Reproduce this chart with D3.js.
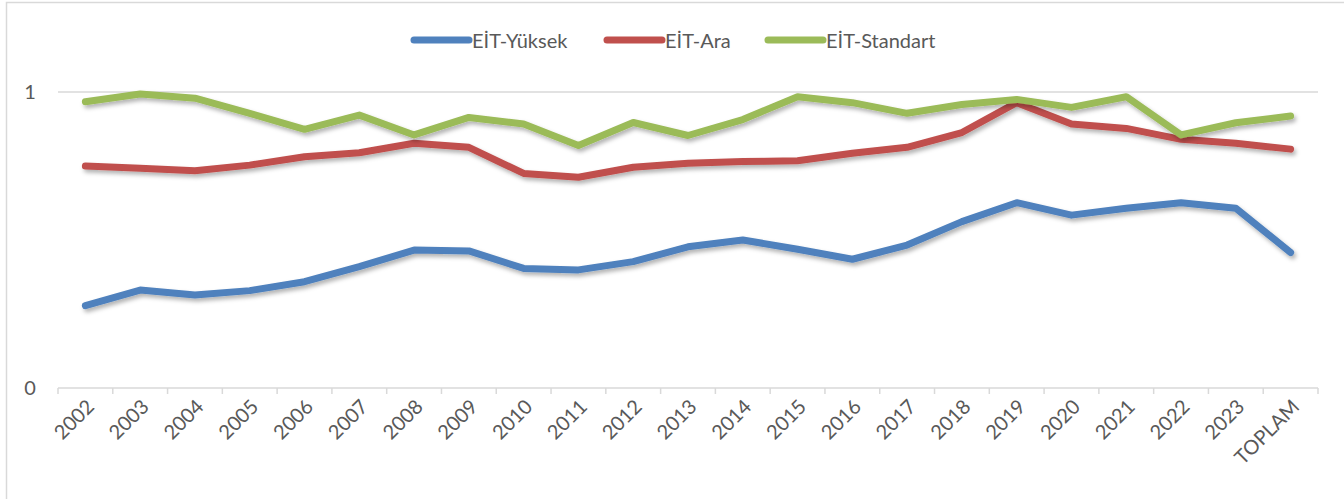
<!DOCTYPE html>
<html>
<head>
<meta charset="utf-8">
<script src="https://cdn.jsdelivr.net/npm/d3@7"></script>
<style>
  body { margin: 0; background: #fff; }
  svg text { font-family: Lato, "Open Sans", sans-serif; fill: #595959; }
</style>
</head>
<body>
<svg class="chart"></svg>
<script>
// categories
var years = ['2002','2003','2004','2005','2006','2007','2008','2009','2010','2011','2012',
             '2013','2014','2015','2016','2017','2018','2019','2020','2021','2022','2023','TOPLAM'];

// series values
var yuksek   = [0.278,0.331,0.314,0.329,0.359,0.41,0.466,0.463,0.404,0.399,0.427,
                0.477,0.50,0.469,0.435,0.483,0.562,0.626,0.584,0.607,0.626,0.607,0.458];
var ara      = [0.75,0.742,0.734,0.753,0.781,0.795,0.827,0.813,0.725,0.712,0.746,
                0.759,0.765,0.768,0.793,0.813,0.863,0.964,0.892,0.877,0.84,0.827,0.807];
var standart = [0.967,0.993,0.979,0.928,0.874,0.922,0.855,0.914,0.892,0.819,0.897,
                0.853,0.907,0.984,0.964,0.928,0.958,0.975,0.948,0.984,0.855,0.896,0.919];

var seriesNames = ['EİT-Yüksek','EİT-Ara','EİT-Standart'];
var seriesColors = ['#4f81bd','#c0504d','#9bbb59'];
var yTicks = [0, 1];

var svgWidth = 1344, svgHeight = 499;
var margin = {top: 92, right: 26, bottom: 111, left: 58};
var width = svgWidth - margin.left - margin.right;
var height = svgHeight - margin.top - margin.bottom;

var svg = d3.select('.chart')
    .attr('width', svgWidth)
    .attr('height', svgHeight);

// outer frame
svg.append('rect')
    .attr('x', 6.5).attr('y', 2.5)
    .attr('width', 1340).attr('height', 520)
    .attr('fill', 'none')
    .attr('stroke', '#d9d9d9')
    .attr('stroke-width', 1.5);

var defs = svg.append('defs');
var f = defs.append('filter').attr('id', 'shadow')
    .attr('x', '-5%').attr('y', '-20%').attr('width', '110%').attr('height', '140%');
f.append('feDropShadow')
    .attr('dx', 2).attr('dy', 3).attr('stdDeviation', 2)
    .attr('flood-color', '#000').attr('flood-opacity', 0.3);

var g = svg.append('g')
    .attr('transform', 'translate(' + margin.left + ',' + margin.top + ')');

var x = d3.scaleBand()
    .domain(years)
    .range([0, width]);

var y = d3.scaleLinear()
    .domain([0, 1])
    .range([height, 0]);

function cx(d) { return x(d) + x.bandwidth() / 2; }

// gridlines
g.selectAll('.grid')
    .data(yTicks)
    .enter().append('line')
    .attr('x1', 0).attr('x2', width)
    .attr('y1', function(d) { return y(d); })
    .attr('y2', function(d) { return y(d); })
    .attr('stroke', '#d9d9d9')
    .attr('stroke-width', 1.5);

// y labels
g.selectAll('.ylab')
    .data(yTicks)
    .enter().append('text')
    .attr('x', -28)
    .attr('y', function(d) { return y(d); })
    .attr('dy', '0.35em')
    .attr('text-anchor', 'middle')
    .style('font-size', '20px')
    .text(function(d) { return d; });

// x ticks at category boundaries
var bounds = years.map(function(d) { return x(d); }).concat([width]);
g.selectAll('.xtick')
    .data(bounds)
    .enter().append('line')
    .attr('x1', function(d) { return d; })
    .attr('x2', function(d) { return d; })
    .attr('y1', height).attr('y2', height + 6)
    .attr('stroke', '#d9d9d9')
    .attr('stroke-width', 1.5);

// x labels rotated
g.selectAll('.xlab')
    .data(years)
    .enter().append('text')
    .attr('text-anchor', 'end')
    .attr('transform', function(d) {
        return 'translate(' + (cx(d) + 10) + ',' + (height + 20) + ') rotate(-45)';
    })
    .style('font-size', '20px')
    .text(function(d) { return d; });

// lines
var line = d3.line()
    .x(function(d, i) { return cx(years[i]); })
    .y(function(d) { return y(d); });

var allSeries = [yuksek, ara, standart];
allSeries.forEach(function(s, i) {
    g.append('path')
        .datum(s)
        .attr('fill', 'none')
        .attr('stroke', seriesColors[i])
        .attr('stroke-width', 7)
        .attr('stroke-linejoin', 'round')
        .attr('stroke-linecap', 'round')
        .attr('filter', 'url(#shadow)')
        .attr('d', line);
});

// legend
var legendX = [414, 607, 768];
var legend = svg.append('g').attr('class', 'legend');
seriesNames.forEach(function(name, i) {
    legend.append('line')
        .attr('x1', legendX[i]).attr('x2', legendX[i] + 55)
        .attr('y1', 40).attr('y2', 40)
        .attr('stroke', seriesColors[i])
        .attr('stroke-width', 7)
        .attr('stroke-linecap', 'round');
    legend.append('text')
        .attr('x', legendX[i] + 58)
        .attr('y', 41)
        .attr('dy', '0.35em')
        .style('font-size', '20px')
        .text(name);
});
</script>
</body>
</html>
